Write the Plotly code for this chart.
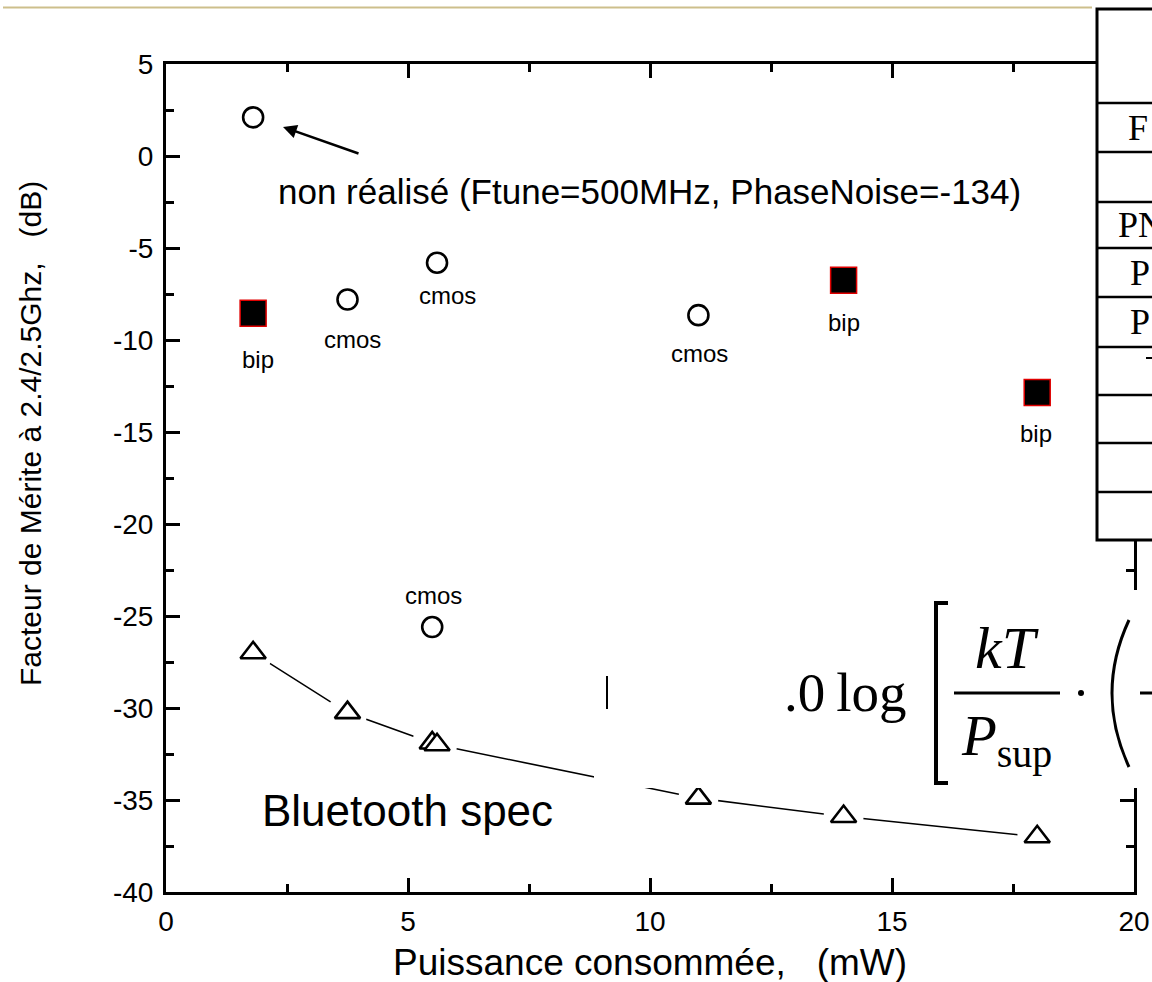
import plotly.graph_objects as go

# ---------------- data ----------------
cmos_power = [3.75, 5.6, 11.0, 5.5]
cmos_fom = [-7.8, -5.8, -8.65, -25.6]
cmos_labels = ["cmos", "cmos", "cmos", "cmos"]

nonreal_power = [1.8]
nonreal_fom = [2.1]

bip_power = [1.8, 14.0, 18.0]
bip_fom = [-8.55, -6.75, -12.85]
bip_labels = ["bip", "bip", "bip"]

spec_power = [1.8, 3.75, 5.5, 5.6, 11.0, 14.0, 18.0]
spec_fom = [-27.0, -30.25, -31.9, -32.0, -34.9, -35.9, -37.0]

x_ticks = [0, 5, 10, 15, 20]
x_ticktext = ["0", "5", "10", "15", "20"]
y_ticks = [5, 0, -5, -10, -15, -20, -25, -30, -35, -40]
y_ticktext = ["5", "0", "-5", "-10", "-15", "-20", "-25", "-30", "-35", "-40"]

# ---------------- geometry helpers (pixel -> paper) ----------------
FIG_W, FIG_H = 1152, 982
L, R, T, B = 166, 18, 64, 90
PW, PH = FIG_W - L - R, FIG_H - T - B


def px(X):
    return (X - L) / PW


def py(Y):
    return (T + PH - Y) / PH


SANS = "Liberation Sans, Arial, sans-serif"
SERIF = "Liberation Serif, Times New Roman, serif"

fig = go.Figure()

# Bluetooth spec line + halo + triangles
fig.add_trace(go.Scatter(x=spec_power, y=spec_fom, mode="lines",
                         line=dict(color="black", width=1.6), showlegend=False,
                         hoverinfo="skip"))
fig.add_trace(go.Scatter(x=spec_power, y=spec_fom, mode="markers",
                         marker=dict(symbol="circle", size=40, color="white",
                                     line=dict(width=0)),
                         showlegend=False, hoverinfo="skip"))
fig.add_trace(go.Scatter(x=spec_power, y=spec_fom, mode="markers",
                         marker=dict(symbol="triangle-up", size=22, color="white",
                                     line=dict(color="black", width=2.6)),
                         showlegend=False, name="Bluetooth spec"))

# cmos circles
fig.add_trace(go.Scatter(x=cmos_power + nonreal_power, y=cmos_fom + nonreal_fom,
                         mode="markers",
                         marker=dict(symbol="circle", size=20, color="white",
                                     line=dict(color="black", width=2.6)),
                         showlegend=False, name="cmos"))

# bip squares
fig.add_trace(go.Scatter(x=bip_power, y=bip_fom, mode="markers",
                         marker=dict(symbol="square", size=26, color="black",
                                     line=dict(color="#e00000", width=1.5)),
                         showlegend=False, name="bip"))

annotations = []

# point labels
cmos_shift = [(5, -40), (10, -33), (1, -38), (1, 32)]
for xv, yv, lab, (dx, dy) in zip(cmos_power, cmos_fom, cmos_labels, cmos_shift):
    annotations.append(dict(x=xv, y=yv, xref="x", yref="y", text=lab, showarrow=False,
                            xshift=dx, yshift=dy, font=dict(family=SANS, size=24, color="black")))
bip_shift = [(5, -46), (0, -42), (-1, -41)]
for xv, yv, lab, (dx, dy) in zip(bip_power, bip_fom, bip_labels, bip_shift):
    annotations.append(dict(x=xv, y=yv, xref="x", yref="y", text=lab, showarrow=False,
                            xshift=dx, yshift=dy, font=dict(family=SANS, size=24, color="black")))

# non réalisé text and arrow
annotations.append(dict(x=px(276), y=py(191), xref="paper", yref="paper",
                        text="non réalisé (Ftune=500MHz, PhaseNoise=-134)",
                        showarrow=False, xanchor="left", yanchor="middle",
                        font=dict(family=SANS, size=35, color="black")))
annotations.append(dict(x=px(283), y=py(127), xref="paper", yref="paper", text="",
                        showarrow=True, ax=77, ay=27, arrowhead=2, arrowsize=1.1,
                        arrowwidth=2.5, arrowcolor="black"))

# Bluetooth spec label
annotations.append(dict(x=px(260), y=py(810), xref="paper", yref="paper",
                        text="Bluetooth spec", showarrow=False, xanchor="left",
                        yanchor="middle", font=dict(family=SANS, size=44, color="black")))

# axis titles
annotations.append(dict(x=px(650), y=py(962), xref="paper", yref="paper",
                        text="Puissance consommée,   (mW)", showarrow=False,
                        xanchor="center", yanchor="middle",
                        font=dict(family=SANS, size=37, color="black")))
annotations.append(dict(x=px(30), y=py(434), xref="paper", yref="paper",
                        text="Facteur de Mérite à 2.4/2.5Ghz,   (dB)", showarrow=False,
                        textangle=-90, xanchor="center", yanchor="middle",
                        font=dict(family=SANS, size=30, color="black")))

shapes = []
# top decorative tan line
shapes.append(dict(type="line", xref="paper", yref="paper", x0=px(3), x1=px(1092),
                   y0=py(7.5), y1=py(7.5), line=dict(color="#cdbf8c", width=2), layer="above"))

# table (white box with rows)
shapes.append(dict(type="rect", xref="paper", yref="paper", x0=px(1097), x1=px(1170),
                   y0=py(9), y1=py(540), fillcolor="white",
                   line=dict(color="black", width=3), layer="above"))
for Yr in [103, 152, 202, 248, 297, 347, 395, 443, 492]:
    shapes.append(dict(type="line", xref="paper", yref="paper", x0=px(1097), x1=px(1170),
                       y0=py(Yr), y1=py(Yr), line=dict(color="black", width=2.5), layer="above"))
for txt, Xl, Yc in [("F", 1126, 128), ("PN", 1116, 225), ("P", 1128, 273), ("P", 1128, 322)]:
    annotations.append(dict(x=px(Xl), y=py(Yc), xref="paper", yref="paper", text=txt,
                            showarrow=False, xanchor="left", yanchor="middle",
                            font=dict(family=SERIF, size=36, color="black")))
shapes.append(dict(type="line", xref="paper", yref="paper", x0=px(1146), x1=px(1152),
                   y0=py(358), y1=py(358), line=dict(color="black", width=2), layer="above"))

# formula white box
shapes.append(dict(type="rect", xref="paper", yref="paper", x0=px(594), x1=px(1170),
                   y0=py(590), y1=py(788), fillcolor="white",
                   line=dict(width=0), layer="above"))
shapes.append(dict(type="line", xref="paper", yref="paper", x0=px(607), x1=px(607),
                   y0=py(676), y1=py(709), line=dict(color="black", width=2), layer="above"))
# bracket [
shapes.append(dict(type="path", xref="paper", yref="paper",
                   path=f"M {px(948)},{py(603)} L {px(936)},{py(603)} L {px(936)},{py(783)} L {px(948)},{py(783)}",
                   line=dict(color="black", width=4), layer="above"))
# fraction bar
shapes.append(dict(type="line", xref="paper", yref="paper", x0=px(954), x1=px(1060),
                   y0=py(693), y1=py(693), line=dict(color="black", width=3), layer="above"))
# dot
shapes.append(dict(type="circle", xref="paper", yref="paper", x0=px(1078), x1=px(1084),
                   y0=py(690), y1=py(696), fillcolor="black", line=dict(width=0), layer="above"))
# parenthesis (
shapes.append(dict(type="path", xref="paper", yref="paper",
                   path=f"M {px(1129)},{py(620)} Q {px(1095)},{py(693)} {px(1129)},{py(767)}",
                   line=dict(color="black", width=3), layer="above"))
# partial next fraction bar
shapes.append(dict(type="line", xref="paper", yref="paper", x0=px(1140), x1=px(1160),
                   y0=py(693), y1=py(693), line=dict(color="black", width=3), layer="above"))

annotations.append(dict(x=px(782), y=py(692), xref="paper", yref="paper",
                        text=".0\u2009log", showarrow=False, xanchor="left", yanchor="middle",
                        font=dict(family=SERIF, size=55, color="black")))
annotations.append(dict(x=px(1007), y=py(648), xref="paper", yref="paper",
                        text="<i>kT</i>", showarrow=False, xanchor="center", yanchor="middle",
                        font=dict(family=SERIF, size=60, color="black")))
annotations.append(dict(x=px(1006), y=py(740), xref="paper", yref="paper",
                        text="<i>P</i><sub>sup</sub>", showarrow=False, xanchor="center",
                        yanchor="middle", font=dict(family=SERIF, size=57, color="black")))

axis_common = dict(showline=True, linewidth=3, linecolor="black", mirror="ticks",
                   ticks="inside", ticklen=14, tickwidth=2.5, tickcolor="black",
                   showgrid=False, zeroline=False,
                   tickfont=dict(family=SANS, size=28, color="black"),
                   minor=dict(ticks="inside", ticklen=8, tickwidth=2.5, tickcolor="black",
                              dtick=2.5, showgrid=False))

fig.update_xaxes(range=[0, 20], tickvals=x_ticks, ticktext=x_ticktext,
                 ticklabelstandoff=2, **axis_common)
fig.update_yaxes(range=[-40, 5], tickvals=y_ticks, ticktext=y_ticktext,
                 ticklabelstandoff=4, **axis_common)

fig.update_layout(width=FIG_W, height=FIG_H,
                  margin=dict(l=L, r=R, t=T, b=B, autoexpand=False),
                  paper_bgcolor="white", plot_bgcolor="white",
                  showlegend=False, annotations=annotations, shapes=shapes)

fig.write_html("out.html", config={"displayModeBar": False},
               post_script="document.body.style.margin='0';document.body.style.overflow='hidden';")
